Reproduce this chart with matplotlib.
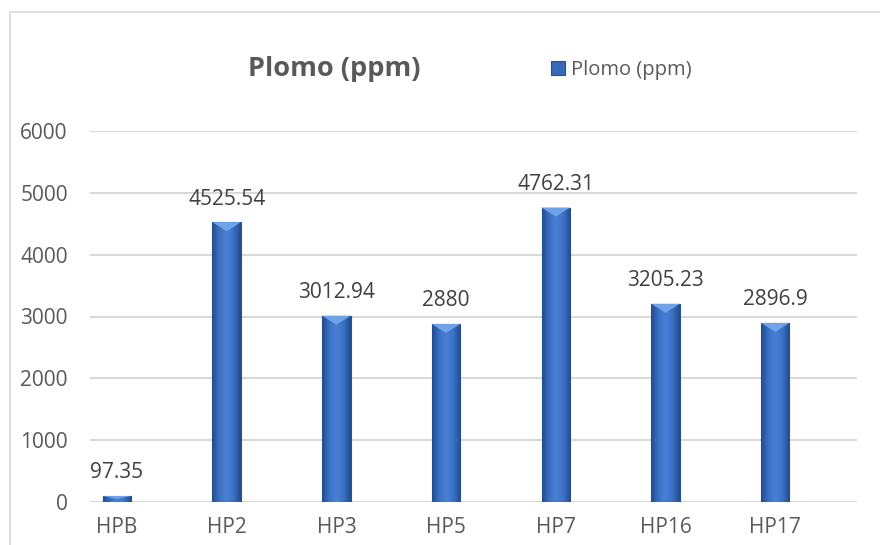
import numpy as np
import matplotlib
matplotlib.use('Agg')
import matplotlib.pyplot as plt
from matplotlib.colors import LinearSegmentedColormap
from matplotlib.patches import Rectangle, Polygon

# Datos
muestras = ['HPB', 'HP2', 'HP3', 'HP5', 'HP7', 'HP16', 'HP17']
plomo = [97.35, 4525.54, 3012.94, 2880, 4762.31, 3205.23, 2896.9]
etiquetas = ['97.35', '4525.54', '3012.94', '2880', '4762.31', '3205.23', '2896.9']
serie = 'Plomo (ppm)'

plt.rcParams['font.family'] = ['Open Sans', 'DejaVu Sans']
texto = '#404040'
gris = '#595959'

fig = plt.figure(figsize=(8.8, 5.45), dpi=100)
ax = fig.add_axes([90 / 880, 1 - 502 / 545, (857 - 90) / 880, (502 - 131) / 545])

# marco del grafico
fig.patches.append(Rectangle((10 / 880, -0.2), 1.2, 1.2 - 12 / 545,
                             transform=fig.transFigure, fill=False,
                             edgecolor='#d9d9d9', linewidth=1.2))

x = np.arange(len(muestras))
barras = ax.bar(x, plomo, width=0.26, color='#3868b8', edgecolor='#2a5090',
                linewidth=0.8, label=serie, zorder=3)

# degradado horizontal para dar volumen
cmap = LinearSegmentedColormap.from_list('azul', ['#234c8a', '#3a70c6', '#4a80d4', '#3a70c6', '#234c8a'])
grad = np.linspace(0, 1, 64).reshape(1, -1)
bisel = 6000 / 371 * 9  # ~9 px en unidades de datos
for b in barras:
    x0, y0 = b.get_x(), b.get_y()
    w, h = b.get_width(), b.get_height()
    im = ax.imshow(grad, extent=(x0, x0 + w, y0, y0 + h), aspect='auto',
                   cmap=cmap, zorder=3.5, interpolation='bicubic')
    im.set_clip_path(b)
    d = min(bisel, h * 0.5)
    ax.add_patch(Polygon([(x0, y0 + h), (x0 + w, y0 + h), (x0 + w / 2, y0 + h - d)],
                         closed=True, facecolor='#6ea3ea', edgecolor='none', zorder=3.6))

for xi, v, t in zip(x, plomo, etiquetas):
    ax.annotate(t, (xi, v), xytext=(0, 9), textcoords='offset points',
                ha='center', va='bottom', fontsize=15, color=texto)

ax.set_xlim(-0.246, 6.746)
ax.set_ylim(0, 6000)
ax.set_yticks(np.arange(0, 6001, 1000))
ax.set_xticks(x)
ax.set_xticklabels(muestras)
ax.tick_params(axis='both', length=0, labelsize=15, labelcolor=gris)
ax.tick_params(axis='y', pad=16)
ax.tick_params(axis='x', pad=11)
ax.grid(axis='y', color='#d9d9d9', linewidth=1.5, zorder=0)
for s in ax.spines.values():
    s.set_visible(False)

fig.text(334 / 880, 1 - 69 / 545, serie, ha='center', va='center',
         fontsize=19.5, fontweight='bold', color=gris)
ax.legend(loc='center left', bbox_to_anchor=(533 / 880, 1 - 70 / 545),
          bbox_transform=fig.transFigure, frameon=False, fontsize=14.5,
          handlelength=0.7, handleheight=0.7, handletextpad=0.3,
          labelcolor=gris)

fig.savefig('out.png', dpi=100)
